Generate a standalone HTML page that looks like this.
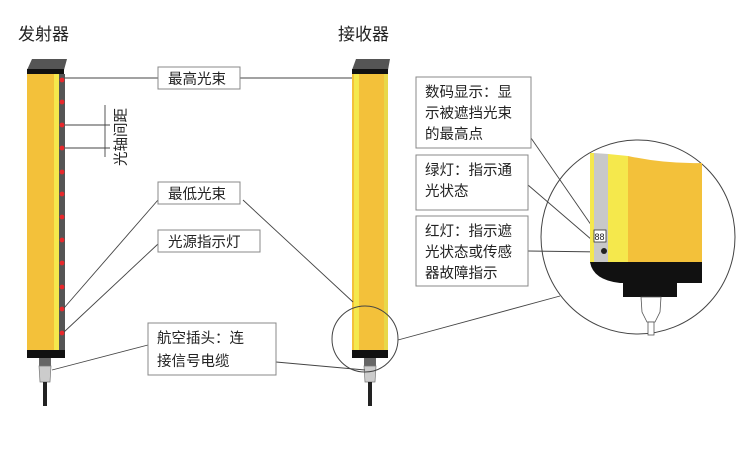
<!DOCTYPE html>
<html><head><meta charset="utf-8"><style>
body{margin:0;background:#fff}
svg{display:block}
text{font-family:"Liberation Sans","Noto Sans CJK SC",sans-serif;fill:#222}
</style></head><body>
<svg width="750" height="460" viewBox="0 0 750 460" xmlns="http://www.w3.org/2000/svg">
<rect width="750" height="460" fill="#fff"/>
<text x="18" y="40" font-size="17">发射器</text>
<text x="338" y="40" font-size="17">接收器</text>

<!-- emitter -->
<polygon points="27,70 32,59 67,59 64,70" fill="#555"/>
<rect x="27" y="69" width="37" height="5" fill="#111"/>
<rect x="27" y="74" width="27" height="278" fill="#f3c13a"/>
<rect x="54" y="74" width="5" height="278" fill="#f5e84c"/>
<rect x="59" y="74" width="6" height="278" fill="#555"/>
<rect x="27" y="350" width="38" height="8" fill="#111"/>
<rect x="39" y="358" width="12" height="8" fill="#666"/>
<polygon points="39,366 51,366 50,382 40,382" fill="#ccc" stroke="#777" stroke-width="0.7"/>
<rect x="43" y="382" width="4" height="24" fill="#222"/>
<g fill="#e8282c">
<circle cx="62" cy="80" r="2.4"/><circle cx="62" cy="102" r="2.4"/><circle cx="62" cy="125" r="2.4"/><circle cx="62" cy="148" r="2.4"/><circle cx="62" cy="172" r="2.4"/><circle cx="62" cy="194" r="2.4"/><circle cx="62" cy="217" r="2.4"/><circle cx="62" cy="240" r="2.4"/><circle cx="62" cy="263" r="2.4"/><circle cx="62" cy="287" r="2.4"/><circle cx="62" cy="309" r="2.4"/><circle cx="62" cy="333" r="2.4"/>
</g>

<!-- receiver -->
<polygon points="352,70 356,59 390,59 388,70" fill="#555"/>
<rect x="352" y="69" width="36" height="5" fill="#111"/>
<rect x="352" y="74" width="36" height="278" fill="#f3c13a"/>
<rect x="354" y="74" width="5" height="278" fill="#f5e84c"/>
<rect x="384" y="74" width="4" height="278" fill="#e8d84a"/>
<rect x="352" y="350" width="36" height="8" fill="#111"/>
<rect x="364" y="358" width="12" height="8" fill="#666"/>
<polygon points="364,366 376,366 375,382 365,382" fill="#ccc" stroke="#777" stroke-width="0.7"/>
<rect x="368" y="382" width="4" height="24" fill="#222"/>
<circle cx="365" cy="339" r="33" fill="none" stroke="#444" stroke-width="1"/>

<!-- lines -->
<g stroke="#444" stroke-width="0.9" fill="none">
<line x1="65" y1="78" x2="158" y2="78"/>
<line x1="240" y1="78" x2="352" y2="78"/>
<line x1="65" y1="125" x2="110" y2="125"/>
<line x1="65" y1="148" x2="110" y2="148"/>
<line x1="105" y1="105" x2="105" y2="157"/>
<line x1="158" y1="200" x2="64" y2="308"/>
<line x1="243" y1="200" x2="353" y2="302"/>
<line x1="158" y1="244" x2="64" y2="332"/>
<line x1="148" y1="345" x2="52" y2="370"/>
<line x1="276" y1="362" x2="365" y2="370"/>
<line x1="398" y1="340" x2="560" y2="296"/>
<line x1="531" y1="138" x2="596" y2="232"/>
<line x1="528" y1="185" x2="592" y2="240"/>
<line x1="528" y1="251" x2="603" y2="252"/>
</g>
<text x="0" y="0" font-size="14.5" transform="translate(126,166) rotate(-90)">光轴间距</text>

<!-- boxes -->
<g fill="#fff" stroke="#888" stroke-width="1">
<rect x="158" y="67" width="82" height="22"/>
<rect x="158" y="182" width="82" height="22"/>
<rect x="158" y="230" width="102" height="22"/>
<rect x="148" y="323" width="128" height="52"/>
<rect x="416" y="77" width="115" height="71"/>
<rect x="416" y="155" width="112" height="55"/>
<rect x="416" y="216" width="112" height="70"/>
</g>
<g font-size="14.5">
<text x="168" y="84">最高光束</text>
<text x="168" y="199">最低光束</text>
<text x="168" y="247">光源指示灯</text>
<text x="157" y="343">航空插头：连</text>
<text x="157" y="366">接信号电缆</text>
<text x="425" y="97">数码显示：显</text>
<text x="425" y="118">示被遮挡光束</text>
<text x="425" y="139">的最高点</text>
<text x="425" y="175">绿灯：指示通</text>
<text x="425" y="196">光状态</text>
<text x="425" y="236">红灯：指示遮</text>
<text x="425" y="257">光状态或传感</text>
<text x="425" y="278">器故障指示</text>
</g>

<!-- big circle detail -->
<circle cx="638" cy="237" r="97" fill="none" stroke="#444" stroke-width="1"/>
<rect x="590" y="153" width="4" height="110" fill="#f5e84c"/>
<polygon points="594,153 608,154 608,263 594,263" fill="#c8c8c8"/>
<polygon points="608,154 628,156 628,263 608,263" fill="#f5e84c"/>
<path d="M628,156 Q665,164 702,163 L702,263 L628,263 Z" fill="#f3c13a"/>
<path d="M590,262 L702,262 L702,283 L620,283 Q593,280 590,262 Z" fill="#111"/>
<rect x="623" y="283" width="54" height="14" fill="#111"/>
<polygon points="641,297 661,297 660,312 655,322 647,322 642,312" fill="#fff" stroke="#555" stroke-width="0.8"/>
<rect x="648" y="322" width="6" height="13" fill="#fff" stroke="#555" stroke-width="0.8"/>
<rect x="594" y="230" width="12" height="12" fill="#fff" stroke="#333" stroke-width="0.8"/>
<text x="594.5" y="240" font-size="9">88</text>
<circle cx="604" cy="251" r="3" fill="#222"/>
</svg>
</body></html>
